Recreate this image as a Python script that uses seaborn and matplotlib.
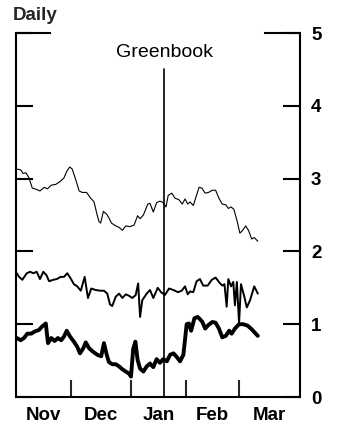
import matplotlib
matplotlib.use("Agg")
import matplotlib.pyplot as plt
import seaborn as sns
import pandas as pd

# ---- data (x in business days since Nov 1) ----
top_days = [0.5,1.7,2.6,3.6,4.7,5.9,7.5,8.7,10.2,11.4,12.8,14.4,16.0,17.4,18.4,19.5,20.4,21.7,22.9,24.0,
            25.6,27.1,28.3,29.3,30.1,30.7,31.7,32.9,33.7,34.6,36.2,37.4,38.6,39.8,41.3,42.8,
            44.1,45.0,46.2,47.8,48.6,49.8,51.0,52.2,53.4,54.4,55.2,56.5,57.7,59.1,60.3,61.3,62.3,63.1,64.3,65.3,
            66.4,67.4,68.6,69.8,71.2,72.4,73.6,74.8,76.1,77.0,78.0,79.0,80.1,81.2,82.2,83.3,84.3,85.5,86.4,87.7]
top_vals = [3.13,3.12,3.07,3.08,3.01,2.87,2.85,2.83,2.88,2.86,2.91,2.92,2.96,3.01,3.10,3.16,3.13,2.98,2.83,2.81,
            2.81,2.73,2.68,2.52,2.41,2.39,2.55,2.51,2.46,2.39,2.35,2.33,2.29,2.35,2.34,2.36,
            2.49,2.45,2.50,2.65,2.66,2.54,2.67,2.69,2.67,2.61,2.77,2.80,2.73,2.71,2.65,2.72,2.65,2.68,2.63,2.75,
            2.88,2.87,2.80,2.81,2.84,2.84,2.73,2.65,2.64,2.59,2.61,2.58,2.43,2.25,2.29,2.35,2.29,2.17,2.19,2.14]

mid_days = [0.3,1.1,2.3,3.9,5.1,6.3,7.5,8.7,9.9,11.1,12.0,13.5,14.8,16.2,17.4,18.6,19.8,21.0,22.2,23.5,
            24.9,26.1,27.3,28.9,30.5,31.9,33.1,34.1,34.9,36.2,37.4,38.6,39.8,41.0,42.2,43.4,44.3,45.0,45.8,47.4,
            48.6,49.8,51.4,52.6,54.0,55.5,57.1,58.7,60.1,61.3,62.3,63.1,64.3,65.5,66.7,67.9,69.5,71.0,72.4,73.6,
            74.8,75.6,76.4,77.0,78.0,78.8,79.4,80.1,80.9,81.6,82.8,83.7,84.9,86.4,87.7]
mid_vals = [1.70,1.65,1.61,1.70,1.72,1.70,1.72,1.62,1.72,1.67,1.59,1.61,1.62,1.65,1.65,1.70,1.63,1.55,1.52,1.46,
            1.65,1.36,1.49,1.47,1.46,1.46,1.42,1.27,1.25,1.38,1.42,1.36,1.41,1.39,1.36,1.40,1.56,1.10,1.33,1.42,
            1.47,1.36,1.50,1.44,1.40,1.49,1.47,1.44,1.46,1.52,1.41,1.45,1.44,1.59,1.62,1.53,1.53,1.61,1.64,1.58,
            1.53,1.55,1.24,1.62,1.52,1.58,1.26,1.58,1.01,1.55,1.38,1.23,1.33,1.52,1.42]

low_days = [0.3,1.7,2.9,4.1,5.5,6.8,8.3,9.5,10.8,11.6,12.8,14.0,15.2,16.4,17.4,18.4,19.6,21.0,22.2,23.2,
            24.4,25.3,26.5,28.0,29.5,30.9,31.9,32.9,33.7,34.9,36.2,37.4,38.6,39.8,41.0,41.7,42.5,43.3,44.1,45.0,
            46.2,47.4,48.6,49.8,51.0,52.2,53.4,54.7,55.9,57.1,58.3,59.5,60.7,61.9,62.7,63.5,64.7,65.9,66.7,67.6,
            68.6,69.8,71.2,72.4,73.6,74.8,76.1,77.3,78.2,79.4,80.9,82.4,84.0,85.5,86.7,87.7]
low_vals = [0.81,0.78,0.81,0.87,0.87,0.90,0.92,0.97,1.01,0.74,0.81,0.77,0.81,0.78,0.83,0.91,0.83,0.76,0.69,0.60,
            0.67,0.75,0.67,0.62,0.58,0.56,0.74,0.58,0.48,0.45,0.45,0.42,0.38,0.35,0.32,0.28,0.66,0.76,0.51,0.39,
            0.35,0.42,0.46,0.41,0.52,0.47,0.52,0.49,0.58,0.60,0.55,0.49,0.58,1.00,1.01,0.91,1.08,1.10,1.07,1.03,
            0.94,0.99,1.03,1.02,0.94,0.82,0.84,0.91,0.87,0.94,1.00,1.00,0.98,0.93,0.88,0.84]

month_labels = ["Nov", "Dec", "Jan", "Feb", "Mar"]
month_bounds = [0, 20, 41.7, 61.7, 81, 103]
greenbook_day = 53.7
y_ticks = [0, 1, 2, 3, 4, 5]

# ---- plot ----
sns.set_style("white")
plt.rcParams["font.family"] = ["Liberation Sans", "DejaVu Sans"]

fig = plt.figure(figsize=(3.46, 4.23), dpi=100)
ax = fig.add_axes([16/346, 26/423, 284/346, 364/423])

df_top = pd.DataFrame({"day": top_days, "val": top_vals})
df_mid = pd.DataFrame({"day": mid_days, "val": mid_vals})
df_low = pd.DataFrame({"day": low_days, "val": low_vals})

sns.lineplot(data=df_top, x="day", y="val", ax=ax, color="black", lw=0.8, estimator=None, sort=False)
sns.lineplot(data=df_mid, x="day", y="val", ax=ax, color="black", lw=1.4, estimator=None, sort=False)
sns.lineplot(data=df_low, x="day", y="val", ax=ax, color="black", lw=2.8, estimator=None, sort=False)

ax.axvline(greenbook_day, ymin=0, ymax=(397-69)/364, color="black", lw=1.2)
ax.text(greenbook_day, 4.73, "Greenbook", ha="center", va="center", fontsize=14, color="black")

ax.set_xlim(month_bounds[0], month_bounds[-1])
ax.set_ylim(0, 5)
ax.set_xlabel("")
ax.set_ylabel("")

# spines
for s in ["left", "bottom", "right"]:
    ax.spines[s].set_visible(True)
    ax.spines[s].set_color("black")
    ax.spines[s].set_linewidth(1.5)
ax.spines["top"].set_visible(False)
ax.plot([0, 34/284], [1, 1], transform=ax.transAxes, color="black", lw=1.5, clip_on=False, solid_capstyle="projecting")
ax.plot([249/284, 1], [1, 1], transform=ax.transAxes, color="black", lw=1.5, clip_on=False, solid_capstyle="projecting")

# y ticks
ax.set_yticks(y_ticks)
ax.set_yticklabels([str(v) for v in y_ticks], fontsize=13.5, fontweight="bold")
ax.tick_params(axis="y", which="major", direction="in", length=12, width=1.5,
               left=True, right=True, labelleft=False, labelright=True, pad=8, colors="black")

# x ticks: month boundaries as major ticks, labels centered as minor
ax.set_xticks(month_bounds[1:-1])
ax.set_xticklabels([])
mids = [(a + b) / 2 for a, b in zip(month_bounds[:-1], month_bounds[1:])]
ax.set_xticks(mids, minor=True)
ax.set_xticklabels(month_labels, minor=True, fontsize=13.5, fontweight="bold")
ax.tick_params(axis="x", which="major", direction="in", length=12, width=1.5, bottom=True, top=False)
ax.tick_params(axis="x", which="minor", length=0, pad=7, colors="black")

fig.text(13/346, 1 - 16/423, "Daily", ha="left", va="center", fontsize=13.5, fontweight="bold")

fig.savefig("out.png", dpi=100)
